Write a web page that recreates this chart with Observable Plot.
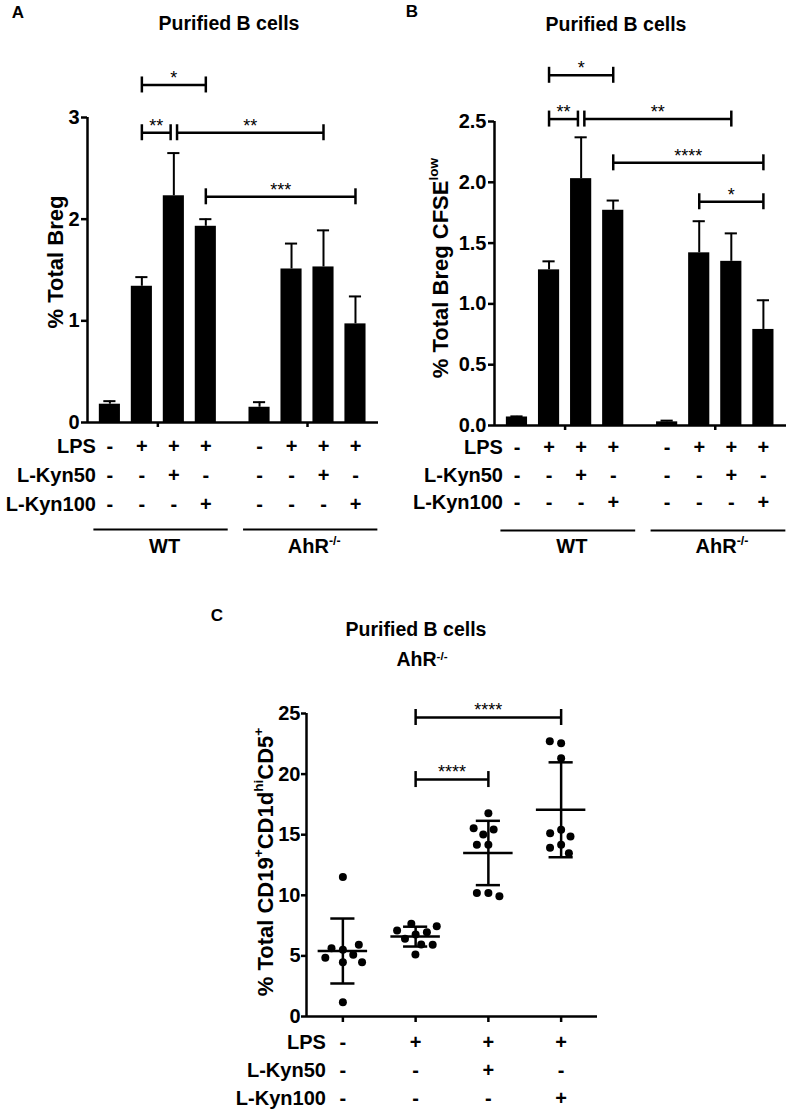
<!DOCTYPE html>
<html><head><meta charset="utf-8">
<script src="https://cdn.jsdelivr.net/npm/d3@7"></script>
<script src="https://cdn.jsdelivr.net/npm/@observablehq/plot@0.6"></script>
<style>
body{margin:0;background:#fff;}
#root{position:relative;width:788px;height:1110px;font-family:"Liberation Sans",Arial,Helvetica,sans-serif;overflow:hidden;background:#fff}
.lbl{position:absolute;font-weight:bold;color:#000;white-space:nowrap;transform:translate(-50%,-50%);line-height:1}
.lbl sup{font-size:0.6em;vertical-align:0.55em}
</style></head><body><div id="root"></div>
<script>
// ---------- data ----------
const conditions = ["LPS", "L-Kyn50", "L-Kyn100"];
const genotypes = ["WT", "AhR"];
const lpsSigns    = ["-", "+", "+", "+", "-", "+", "+", "+"];
const kyn50Signs  = ["-", "-", "+", "-", "-", "-", "+", "-"];
const kyn100Signs = ["-", "-", "-", "+", "-", "-", "-", "+"];

// Panel A: % Total Breg (mean, SEM)
const bregMean = [0.18, 1.34, 2.23, 1.93, 0.15, 1.51, 1.53, 0.97];
const bregSem  = [0.03, 0.09, 0.42, 0.07, 0.05, 0.25, 0.36, 0.27];
const bregTicks = [0, 1, 2, 3];
const bregSig = [
  {from: 1, to: 3, label: "*",   y: 3.32},
  {from: 1, to: 2, label: "**",  y: 2.85},
  {from: 2, to: 6, label: "**",  y: 2.85},
  {from: 3, to: 7, label: "***", y: 2.22}
];

// Panel B: % Total Breg CFSE low (mean, SEM)
const cfseMean = [0.07, 1.28, 2.03, 1.77, 0.03, 1.42, 1.35, 0.79];
const cfseSem  = [0.005, 0.07, 0.34, 0.08, 0.01, 0.26, 0.23, 0.24];
const cfseTicks = [0, 0.5, 1, 1.5, 2, 2.5];
const cfseSig = [
  {from: 1, to: 3, label: "*",    y: 2.88},
  {from: 1, to: 2, label: "**",   y: 2.52},
  {from: 2, to: 6, label: "**",   y: 2.52},
  {from: 3, to: 7, label: "****", y: 2.16},
  {from: 5, to: 7, label: "*",    y: 1.84}
];

// Panel C: individual values, AhR-/- purified B cells
const cNoLps      = [11.5, 5.92, 5.09, 5.5, 5.64, 4.84, 4.48, 4.48, 1.18];
const cLpsOnly    = [7.10, 7.45, 7.65, 6.96, 6.77, 6.41, 5.94, 5.92, 5.12];
const cLpsKyn50   = [16.77, 15.43, 15.54, 15.02, 14.17, 14.17, 10.2, 9.93, 10.2];
const cLpsKyn100  = [22.71, 22.55, 21.31, 15.12, 15.40, 14.85, 14.17, 13.92, 13.47];
const cLpsSigns    = ["-", "+", "+", "+"];
const cKyn50Signs  = ["-", "-", "+", "-"];
const cKyn100Signs = ["-", "-", "-", "+"];
const cTicks = [0, 5, 10, 15, 20, 25];
const cSig = [
  {from: 1, to: 3, label: "****", y: 24.67},
  {from: 1, to: 2, label: "****", y: 19.55}
];

// ---------- helpers ----------
const FONT = '"Liberation Sans", Arial, Helvetica, sans-serif';
const root = document.getElementById("root");

function place(el, left, top, w) {
  const wrap = document.createElement("div");
  wrap.style.cssText = `position:absolute;left:${left}px;top:${top}px;width:${w}px;`;
  wrap.appendChild(el);
  root.appendChild(wrap);
}
function htmlLabel(html, cx, cy, size) {
  const d = document.createElement("div");
  d.className = "lbl";
  d.style.left = cx + "px"; d.style.top = cy + "px"; d.style.fontSize = size + "px";
  d.innerHTML = html;
  root.appendChild(d);
}
function addText(svg, x, y, parts, opts = {}) {
  const size = opts.size || 20;
  const t = d3.select(svg).append("text")
    .attr("x", x).attr("y", y)
    .attr("text-anchor", opts.anchor || "middle")
    .attr("dy", "0.35em")
    .attr("font-family", FONT).attr("font-weight", "bold")
    .attr("font-size", size).attr("fill", "black");
  if (opts.rotate) t.attr("transform", `rotate(${opts.rotate} ${x} ${y})`);
  let shifted = false;
  parts.forEach(p => {
    const s = t.append("tspan").text(p.t);
    if (p.sup && !shifted) { s.attr("font-size", size * 0.62).attr("dy", -size * 0.42); shifted = true; }
    else if (p.sup) { s.attr("font-size", size * 0.62); }
    else if (shifted) { s.attr("dy", size * 0.42); shifted = false; }
  });
}
function bracketsFrom(sig, pos) {
  return sig.map(s => {
    let x1 = pos[s.from], x2 = pos[s.to];
    if (sig.some(o => o !== s && o.y === s.y && o.to === s.from)) x1 += 0.1;
    if (sig.some(o => o !== s && o.y === s.y && o.from === s.to)) x2 -= 0.1;
    return {...s, x1, x2, mid: (x1 + x2) / 2};
  });
}
function bracketMarks(br, capY) {
  const ends = br.flatMap(b => [{x: b.x1, y: b.y}, {x: b.x2, y: b.y}]);
  return [
    Plot.ruleY(br, {y: "y", x1: "x1", x2: "x2", strokeWidth: 2.5}),
    Plot.ruleX(ends, {x: "x", y1: d => d.y - capY, y2: d => d.y + capY, strokeWidth: 2.5}),
    Plot.text(br, {x: "mid", y: "y", text: "label", dy: -7, fontSize: 18, fontWeight: "normal", fontFamily: FONT})
  ];
}
const txt = {fontSize: 20, fontWeight: "bold", fontFamily: FONT, fill: "black"};

// ---------- bar panels ----------
function barPanel(cfg) {
  const {means, sems, ticks, tickFmt, sig, width, height, mt, mb, ml, mr, yMax, rowDy, lineDy, labelDy, labelDx} = cfg;
  const GAP = 0.68;
  const pos = means.map((_, i) => i + (i >= 4 ? GAP : 0));
  const bars = means.map((m, i) => ({pos: pos[i], mean: m, top: m + sems[i],
    s0: lpsSigns[i], s1: kyn50Signs[i], s2: kyn100Signs[i]}));
  const pxPerY = (height - mt - mb) / yMax;
  const capY = 8 / pxPerY;
  const br = bracketsFrom(sig, pos);
  const spans = [
    {name: genotypes[0], x1: pos[0] - 0.5, x2: pos[3] + 0.7},
    {name: genotypes[1], x1: pos[4] - 0.5, x2: pos[7] + 0.7}
  ];
  const centers = [(pos[0] + pos[3]) / 2, (pos[4] + pos[7]) / 2];
  const xDomain = [-0.7, 8.4];
  const signKeys = ["s0", "s1", "s2"];
  const plot = Plot.plot({
    width, height, marginTop: mt, marginBottom: mb, marginLeft: ml, marginRight: mr,
    x: {domain: xDomain},
    y: {domain: [0, yMax]},
    style: {fontFamily: FONT, background: "white", overflow: "visible"},
    marks: [
      Plot.rectY(bars, {x1: d => d.pos - 0.33, x2: d => d.pos + 0.33, y1: () => 0, y2: "mean", fill: "black"}),
      Plot.ruleX(bars, {x: "pos", y1: "mean", y2: "top", strokeWidth: 2}),
      Plot.ruleY(bars, {y: "top", x1: d => d.pos - 0.19, x2: d => d.pos + 0.19, strokeWidth: 2}),
      Plot.ruleY([0], {strokeWidth: 2.5}),
      Plot.ruleX([xDomain[0]], {y1: 0, y2: yMax, strokeWidth: 2.5}),
      Plot.axisY(ticks, {tickSize: 6, tickPadding: 2, strokeWidth: 2.5, tickFormat: tickFmt, label: null, ...txt}),
      Plot.axisX(centers, {tickSize: 5, strokeWidth: 2.5, tickFormat: () => "", label: null}),
      ...bracketMarks(br, capY),
      ...signKeys.map((k, r) => Plot.text(bars, {x: "pos", y: () => 0, dy: rowDy[r], text: k, ...txt})),
      ...conditions.map((c, r) => Plot.text([c], {x: () => pos[0], y: () => 0, dx: labelDx, dy: rowDy[r], text: d => d, textAnchor: "end", ...txt})),
      Plot.ruleY(spans, {y: () => 0, x1: "x1", x2: "x2", dy: lineDy, strokeWidth: 2})
    ]
  });
  const xs = plot.scale("x"), ys = plot.scale("y");
  const y0 = ys.apply(0) + labelDy;
  addText(plot, xs.apply((spans[0].x1 + spans[0].x2) / 2) + 4, y0, [{t: "WT"}], {size: 20});
  addText(plot, xs.apply((spans[1].x1 + spans[1].x2) / 2) + 4, y0, [{t: "AhR"}, {t: "-/-", sup: true}], {size: 20});
  return plot;
}

const plotA = barPanel({
  means: bregMean, sems: bregSem, ticks: bregTicks, tickFmt: d3.format("d"), sig: bregSig,
  width: 394, height: 560, mt: 117, mb: 138, ml: 87, mr: 16, yMax: 3,
  rowDy: [24, 53, 82], lineDy: 107, labelDy: 124, labelDx: -14
});
addText(plotA, 55, 262, [{t: "% Total Breg"}], {size: 22, rotate: -90});
place(plotA, 0, 0, 394);

const plotB = barPanel({
  means: cfseMean, sems: cfseSem, ticks: cfseTicks, tickFmt: d3.format(".1f"), sig: cfseSig,
  width: 394, height: 560, mt: 121, mb: 135, ml: 100, mr: 2, yMax: 2.5,
  rowDy: [22, 50, 77], lineDy: 105, labelDy: 121, labelDx: -14
});
addText(plotB, 46, 268, [{t: "% Total Breg CFSE"}, {t: "low", sup: true}], {size: 22, rotate: -90});
place(plotB, 394, 0, 394);

// ---------- scatter panel ----------
function swarm(values, pxPerY, D) {
  const mean = d3.mean(values);
  const order = d3.range(values.length).sort((a, b) => Math.abs(values[a] - mean) - Math.abs(values[b] - mean));
  const placed = [], off = new Array(values.length);
  for (const i of order) {
    const y = values[i] * pxPerY;
    const cands = [0];
    for (const p of placed) {
      const dy = Math.abs(p.y - y);
      if (dy < D) { const dx = Math.sqrt(D * D - dy * dy); cands.push(p.x + dx, p.x - dx); }
    }
    cands.sort((a, b) => Math.abs(a) - Math.abs(b) || a - b);
    const x = cands.find(c => placed.every(p => (p.x - c) ** 2 + (p.y - y) ** 2 >= D * D - 1e-6));
    placed.push({x, y}); off[i] = x;
  }
  return off;
}
(function () {
  const width = 788, height = 550, mt = 153, mb = 94, ml = 306, mr = 191, yMax = 25;
  const xDomain = [-0.5, 3.5];
  const pxPerY = (height - mt - mb) / yMax;
  const pxPerX = (width - ml - mr) / (xDomain[1] - xDomain[0]);
  const groups = [cNoLps, cLpsOnly, cLpsKyn50, cLpsKyn100];
  const pos = groups.map((_, i) => i);
  const points = groups.flatMap((vals, g) => {
    const off = swarm(vals, pxPerY, 11.5);
    return vals.map((v, i) => ({g, v, x: g + off[i] / pxPerX}));
  });
  const stats = groups.map((vals, g) => {
    const m = d3.mean(vals), sd = d3.deviation(vals);
    return {g, mean: m, lo: m - sd, hi: m + sd,
      s0: cLpsSigns[g], s1: cKyn50Signs[g], s2: cKyn100Signs[g]};
  });
  const br = bracketsFrom(cSig, pos);
  const rowDy = [26, 54, 82];
  const signKeys = ["s0", "s1", "s2"];
  const plot = Plot.plot({
    width, height, marginTop: mt, marginBottom: mb, marginLeft: ml, marginRight: mr,
    x: {domain: xDomain},
    y: {domain: [0, yMax]},
    style: {fontFamily: FONT, background: "white", overflow: "visible"},
    marks: [
      Plot.ruleY([0], {strokeWidth: 2.5}),
      Plot.ruleX([xDomain[0]], {y1: 0, y2: yMax, strokeWidth: 2.5}),
      Plot.axisY(cTicks, {tickSize: 5, tickPadding: 1, strokeWidth: 2.5, label: null, ...txt}),
      Plot.axisX(pos, {tickSize: 6, strokeWidth: 2.5, tickFormat: () => "", label: null}),
      Plot.ruleX(stats, {x: "g", y1: "lo", y2: "hi", strokeWidth: 2.5}),
      Plot.ruleY(stats, {y: "mean", x1: d => d.g - 0.34, x2: d => d.g + 0.34, strokeWidth: 2.5}),
      Plot.ruleY(stats, {y: "lo", x1: d => d.g - 0.166, x2: d => d.g + 0.166, strokeWidth: 2.5}),
      Plot.ruleY(stats, {y: "hi", x1: d => d.g - 0.166, x2: d => d.g + 0.166, strokeWidth: 2.5}),
      Plot.dot(points, {x: "x", y: "v", r: 4, fill: "black", stroke: "none"}),
      ...bracketMarks(br, 8 / pxPerY),
      ...signKeys.map((k, r) => Plot.text(stats, {x: "g", y: () => 0, dy: rowDy[r], text: k, ...txt})),
      ...conditions.map((c, r) => Plot.text([c], {x: () => pos[0], y: () => 0, dx: -17, dy: rowDy[r], text: d => d, textAnchor: "end", ...txt}))
    ]
  });
  addText(plot, 265, 302, [{t: "% Total CD19"}, {t: "+", sup: true}, {t: "CD1d"}, {t: "hi", sup: true}, {t: "CD5"}, {t: "+", sup: true}], {size: 22, rotate: -90});
  place(plot, 0, 560, 788);
})();

// ---------- titles & panel letters ----------
htmlLabel("A", 18, 12, 17);
htmlLabel("B", 412, 11, 17);
htmlLabel("C", 217, 615, 17);
htmlLabel("Purified B cells", 229, 24, 19.5);
htmlLabel("Purified B cells", 616, 25, 19.5);
htmlLabel("Purified B cells", 416, 630, 19.5);
htmlLabel("AhR<sup>-/-</sup>", 422, 660, 19.5);
</script>
</body></html>
